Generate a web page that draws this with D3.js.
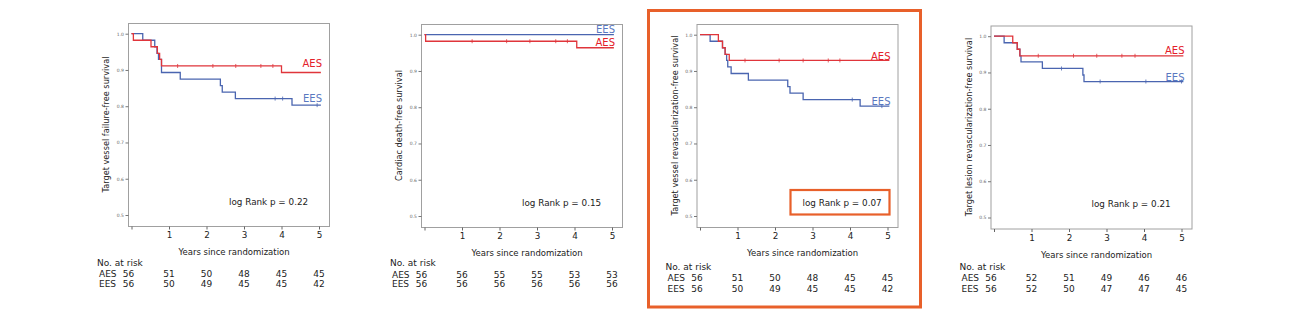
<!DOCTYPE html>
<html><head><meta charset="utf-8">
<script src="https://cdn.jsdelivr.net/npm/d3@7/dist/d3.min.js"></script>
<style>
html,body{margin:0;padding:0;background:#fff;}
svg{display:block;font-family:"DejaVu Sans",Verdana,sans-serif;}
</style></head>
<body>
<svg id="c" width="1290" height="322"></svg>
<script>
// ---------- data ----------
const yearTicks = [0, 1, 2, 3, 4, 5];
const yearLabels = ["", "1", "2", "3", "4", "5"];
const survTicks = [0.5, 0.6, 0.7, 0.8, 0.9, 1.0];
const groups = ["AES", "EES"];

const yTitles = [
  "Target vessel failure-free survival",
  "Cardiac death-free survival",
  "Target vessel revascularization-free survival",
  "Target lesion revascularization-free survival"
];
const pValues = ["0.22", "0.15", "0.07", "0.21"];

// Kaplan-Meier steps (time in years, survival)
const p1AesT = [0, 0.05, 0.52, 0.69, 0.75, 0.8, 4.0, 5.05];
const p1AesS = [1.0, 0.982, 0.964, 0.946, 0.929, 0.911, 0.893, 0.893];
const p1EesT = [0, 0.3, 0.62, 0.68, 0.72, 0.8, 1.3, 2.37, 2.42, 2.77, 4.28, 5.05];
const p1EesS = [1.0, 0.982, 0.964, 0.946, 0.929, 0.893, 0.875, 0.857, 0.839, 0.821, 0.803, 0.803];
const p1AesCens = [1.23, 2.17, 2.78, 3.45, 3.77];
const p1EesCens = [3.83, 4.03, 4.95];

const p2AesT = [0, 0.03, 4.06, 5.05];
const p2AesS = [1.0, 0.982, 0.964, 0.964];
const p2EesT = [0, 5.05];
const p2EesS = [1.0, 1.0];
const p2AesCens = [1.27, 2.19, 2.81, 3.5, 3.81];
const p2EesCens = [];

const p3AesT = [0, 0.49, 0.6, 0.67, 0.78, 5.05];
const p3AesS = [1.0, 0.982, 0.964, 0.946, 0.929, 0.929];
const p3EesT = [0, 0.27, 0.6, 0.67, 0.71, 0.74, 0.83, 1.29, 2.34, 2.4, 2.75, 4.27, 5.05];
const p3EesS = [1.0, 0.982, 0.964, 0.946, 0.929, 0.911, 0.893, 0.875, 0.857, 0.839, 0.821, 0.803, 0.803];
const p3AesCens = [1.2, 2.11, 2.75, 3.42, 3.73];
const p3EesCens = [4.06, 4.85];

const p4AesT = [0, 0.5, 0.62, 0.69, 5.05];
const p4AesS = [1.0, 0.982, 0.964, 0.946, 0.946];
const p4EesT = [0, 0.27, 0.62, 0.69, 0.72, 1.29, 2.37, 2.4, 5.05];
const p4EesS = [1.0, 0.982, 0.964, 0.946, 0.929, 0.911, 0.893, 0.875, 0.875];
const p4AesCens = [1.18, 2.12, 2.74, 3.41, 3.76];
const p4EesCens = [1.8, 2.83, 4.05, 5.0];

// numbers at risk (years 0..5)
const p1AesRisk = [56, 51, 50, 48, 45, 45];
const p1EesRisk = [56, 50, 49, 45, 45, 42];
const p2AesRisk = [56, 56, 55, 55, 53, 53];
const p2EesRisk = [56, 56, 56, 56, 56, 56];
const p3AesRisk = [56, 51, 50, 48, 45, 45];
const p3EesRisk = [56, 50, 49, 45, 45, 42];
const p4AesRisk = [56, 52, 51, 49, 46, 46];
const p4EesRisk = [56, 52, 50, 47, 47, 45];

// group label positions (survival level)
const labelLevels = [[0.917, 0.820], [0.978, 1.013], [0.939, 0.815], [0.960, 0.887]];

// ---------- layout ----------
const panels = [
  {L: 128,   T: 23,   rows: [263.3, 274.3, 283.5], aesT: p1AesT, aesS: p1AesS, eesT: p1EesT, eesS: p1EesS, aesC: p1AesCens, eesC: p1EesCens, aesR: p1AesRisk, eesR: p1EesRisk},
  {L: 421,   T: 24,   rows: [263.3, 275, 283.5],   aesT: p2AesT, aesS: p2AesS, eesT: p2EesT, eesS: p2EesS, aesC: p2AesCens, eesC: p2EesCens, aesR: p2AesRisk, eesR: p2EesRisk},
  {L: 696.5, T: 24,   rows: [266.7, 278.3, 289.3], aesT: p3AesT, aesS: p3AesS, eesT: p3EesT, eesS: p3EesS, aesC: p3AesCens, eesC: p3EesCens, aesR: p3AesRisk, eesR: p3EesRisk, box: true},
  {L: 990.5, T: 25.5, rows: [266.7, 278.3, 289.3], aesT: p4AesT, aesS: p4AesS, eesT: p4EesT, eesS: p4EesS, aesC: p4AesCens, eesC: p4EesCens, aesR: p4AesRisk, eesR: p4EesRisk}
];
const FW = 201, FH = 203;
const RED = "#e0353b", BLUE = "#4a65b0", RED_T = "#e4202a", BLUE_T = "#5a78c0", ORANGE = "#e8602a";
const FS = 9;

const svg = d3.select("#c");

// outer highlight box for panel 3
svg.append("rect").attr("x", 648.5).attr("y", 10.5).attr("width", 272).attr("height", 296.5)
  .attr("fill", "none").attr("stroke", ORANGE).attr("stroke-width", 3);

panels.forEach((p, i) => {
  const g = svg.append("g");
  const x = d3.scaleLinear().domain([0, 5]).range([p.L + 3.5, p.L + 191]);
  const y = d3.scaleLinear().domain([0.5, 1.0]).range([p.T + 192, p.T + 10.7]);

  // frame
  g.append("rect").attr("x", p.L + 0.5).attr("y", p.T + 0.5).attr("width", FW).attr("height", FH)
    .attr("fill", "none").attr("stroke", "#a0a0a0").attr("stroke-width", 1);

  // y axis ticks
  const yAxis = d3.axisLeft(y).tickValues(survTicks).tickFormat(d3.format(".1f")).tickSize(3).tickPadding(1.5);
  const ya = g.append("g").attr("transform", `translate(${p.L + 0.5},0)`).call(yAxis);
  ya.select(".domain").remove();
  ya.selectAll("line").attr("stroke", "#777");
  ya.selectAll("text").attr("font-size", 4.5).attr("fill", "#666").attr("font-family", "DejaVu Sans");

  // x axis ticks
  const xAxis = d3.axisBottom(x).tickValues(yearTicks).tickFormat((d, k) => yearLabels[k]).tickSize(3).tickPadding(2.5);
  const xa = g.append("g").attr("transform", `translate(0,${p.T + FH + 0.5})`).call(xAxis);
  xa.select(".domain").remove();
  xa.selectAll("line").attr("stroke", "#666");
  xa.selectAll("text").attr("font-size", 8.8).attr("fill", "#222").attr("font-family", "DejaVu Sans");

  // y title
  g.append("text").attr("transform", `translate(${p.L - 22},${p.T + FH / 2}) rotate(-90)`)
    .attr("text-anchor", "middle").attr("dominant-baseline", "central")
    .attr("font-size", 8.2).attr("fill", "#222").text(yTitles[i]);

  // x title
  g.append("text").attr("x", p.L + 106).attr("y", p.T + 229).attr("text-anchor", "middle")
    .attr("dominant-baseline", "central").attr("font-size", 8.5).attr("fill", "#222")
    .text("Years since randomization");

  // curves
  const line = d3.line().x(d => x(d[0])).y(d => y(d[1])).curve(d3.curveStepAfter);
  const series = [
    {name: "AES", t: p.aesT, s: p.aesS, c: p.aesC, col: RED, tcol: RED_T, lvl: labelLevels[i][0]},
    {name: "EES", t: p.eesT, s: p.eesS, c: p.eesC, col: BLUE, tcol: BLUE_T, lvl: labelLevels[i][1]}
  ];
  [series[1], series[0]].forEach(se => {
    const pts = se.t.map((t, k) => [t, se.s[k]]);
    g.append("path").attr("d", line(pts)).attr("fill", "none").attr("stroke", se.col).attr("stroke-width", 1.3);
    const stepAt = t => { let v = se.s[0]; se.t.forEach((tt, k) => { if (tt <= t) v = se.s[k]; }); return v; };
    g.selectAll(null).data(se.c).enter().append("line")
      .attr("x1", d => x(d)).attr("x2", d => x(d))
      .attr("y1", d => y(stepAt(d)) - 2).attr("y2", d => y(stepAt(d)) + 2)
      .attr("stroke", se.col).attr("stroke-width", 0.8);
    g.append("text").attr("x", p.L + 194).attr("y", y(se.lvl)).attr("text-anchor", "end")
      .attr("dominant-baseline", "central").attr("font-size", 10).attr("fill", se.tcol).text(se.name);
  });

  // log rank
  g.append("text").attr("x", p.L + (p.box ? 106 : 101)).attr("y", p.T + 178.5)
    .attr("dominant-baseline", "central").attr("font-size", 8.8).attr("fill", "#222")
    .text("log Rank p = " + pValues[i]);
  if (p.box) {
    g.append("rect").attr("x", p.L + 94).attr("y", p.T + 166).attr("width", 99).attr("height", 24.5)
      .attr("fill", "none").attr("stroke", ORANGE).attr("stroke-width", 2.2);
  }

  // risk table
  g.append("text").attr("x", p.L - 31).attr("y", p.rows[0]).attr("dominant-baseline", "central")
    .attr("font-size", FS).attr("fill", "#222").text("No. at risk");
  [[groups[0], p.aesR, p.rows[1]], [groups[1], p.eesR, p.rows[2]]].forEach(([nm, r, yy]) => {
    g.append("text").attr("x", p.L - 29).attr("y", yy).attr("dominant-baseline", "central")
      .attr("font-size", FS).attr("fill", "#222").text(nm);
    g.selectAll(null).data(r).enter().append("text")
      .attr("x", (d, k) => x(yearTicks[k]) - (k === 0 ? 3 : 0)).attr("y", yy)
      .attr("text-anchor", "middle").attr("dominant-baseline", "central")
      .attr("font-size", FS).attr("fill", "#222").text(d => d);
  });
});
</script>
</body></html>
